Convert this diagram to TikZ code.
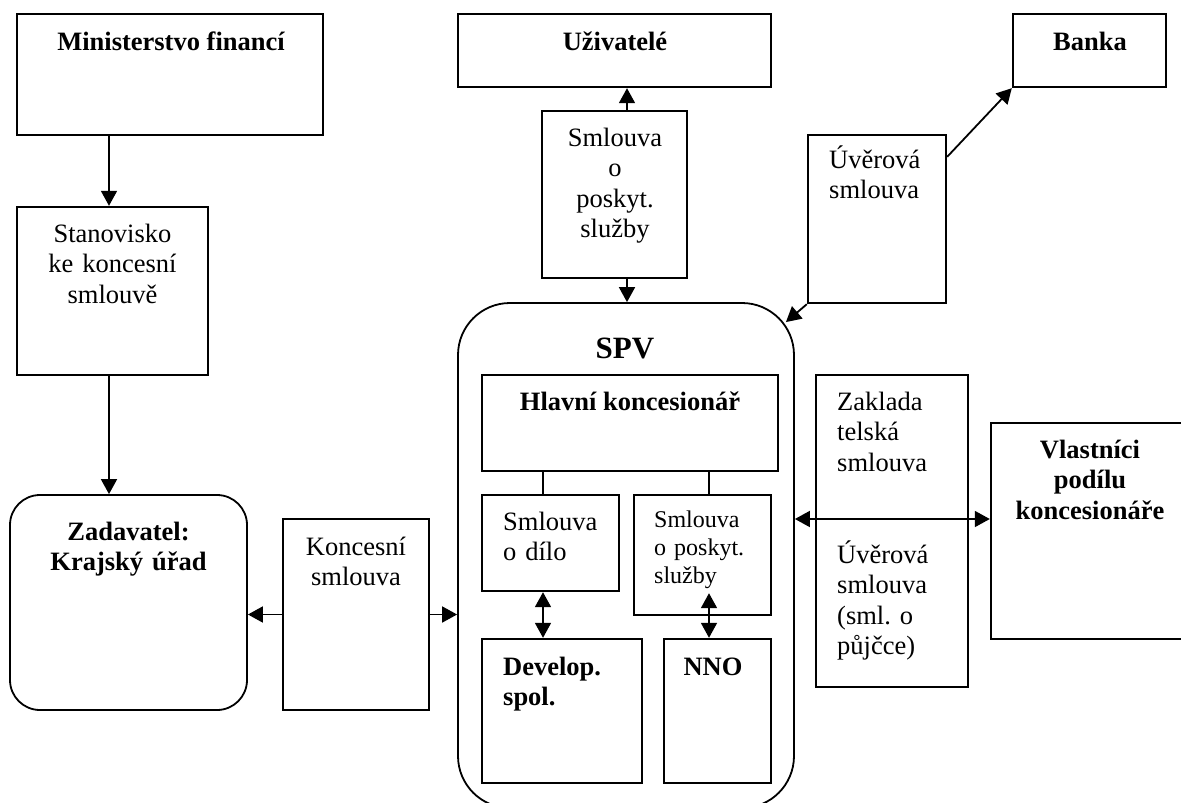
\documentclass[tikz,border=0pt]{standalone}
\usepackage{fontspec}
\setmainfont{Liberation Serif}
\usetikzlibrary{arrows.meta,calc}
\newcommand\rigidsp{\frenchspacing\spaceskip=0.25em\relax}
\begin{document}
\begin{tikzpicture}[x=1pt,y=-1pt,
  box/.style={draw, line width=2.4pt, inner sep=0pt},
  rbox/.style={draw, line width=1.8pt, inner sep=0pt, rounded corners=#1},
  wh/.style 2 args={minimum width=#1pt, minimum height=#2pt},
  txt/.style={inner sep=0pt, font=\fontsize{26.5}{30.5}\selectfont\rigidsp},
  btxt/.style={inner sep=0pt, font=\fontsize{26.5}{30.5}\selectfont\bfseries\rigidsp},
  conn/.style={line width=1.8pt, -{Triangle[length=15pt,width=16pt]}},
  dconn/.style={line width=1.8pt, {Triangle[length=15pt,width=16pt]}-{Triangle[length=15pt,width=16pt]}},
  link/.style={line width=1.8pt}
]
\useasboundingbox (0,0) rectangle (1181,803);
\clip (0,0) rectangle (1181,803);
\fill[white] (0,0) rectangle (1181,803);

% boxes
\node[box, wh={306}{121}] (min) at (170,74.5) {};
\node[box, wh={191}{168}] (stan) at (112.5,291) {};
\node[rbox=30pt, wh={237}{215}] (zad) at (128.5,602.5) {};
\node[box, wh={146}{191}] (konc) at (356,614.5) {};
\node[box, wh={313}{73}] (uziv) at (614.5,50.5) {};
\node[box, wh={145}{167}] (sops) at (614.5,194.5) {};
\node[box, wh={153}{73}] (banka) at (1089.5,50.5) {};
\node[box, wh={138}{168}] (uver) at (877,219) {};
\node[rbox=52pt, wh={336}{505}] (spv) at (626,555.5) {};
\node[box, wh={296}{96}] (hl) at (630,423) {};
\node[box, wh={137}{96}] (sod) at (550.5,543) {};
\node[box, wh={137}{120}] (spo) at (702.5,555) {};
\node[box, wh={160}{144}] (dev) at (562,711) {};
\node[box, wh={107}{144}] (nno) at (717.5,711) {};
\node[box, wh={152}{312}] (zakl) at (892,531) {};
\node[box, wh={199}{216}] (vlast) at (1090.5,531) {};

% texts
\node[btxt, anchor=base] (tmin) at (171,50) {Ministerstvo financí};
\node[txt, anchor=base, text width=190pt, align=center] (tstan) at (112.5,242) {Stanovisko\\ke koncesní\\smlouvě};
\node[btxt, anchor=base, text width=230pt, align=center] (tzad) at (128.5,540) {Zadavatel:\\Krajský úřad};
\node[txt, anchor=base, text width=140pt, align=center] (tkonc) at (356,555) {Koncesní\\smlouva};
\node[btxt, anchor=base] (tuziv) at (615,50) {Uživatelé};
\node[txt, anchor=base, text width=140pt, align=center] (tsops) at (615,146) {Smlouva\\o\\poskyt.\\služby};
\node[btxt, anchor=base] (tbanka) at (1090,50) {Banka};
\node[txt, anchor=base west, text width=120pt, align=left] (tuver) at (829,168) {Úvěrová\\smlouva};
\node[inner sep=0pt, font=\fontsize{31}{36}\selectfont\bfseries, anchor=base] (tspv) at (625,358) {SPV};
\node[btxt, anchor=base] (thl) at (630,410) {Hlavní koncesionář};
\node[txt, anchor=base west, text width=110pt, align=left] (tsod) at (503,530) {Smlouva\\o dílo};
\node[inner sep=0pt, font=\fontsize{24}{28}\selectfont\rigidsp, anchor=base west, text width=110pt, align=left] (tspo) at (654,527) {Smlouva\\o poskyt.\\služby};
\node[btxt, anchor=base west, text width=130pt, align=left] (tdev) at (503,675) {Develop.\\spol.};
\node[btxt, anchor=base] (tnno) at (713,675) {NNO};
\node[txt, anchor=base west, text width=125pt, align=left] (tzak) at (837,410) {Zaklada\\telská\\smlouva};
\node[txt, anchor=base west, text width=125pt, align=left] (tuv2) at (837,563) {Úvěrová\\smlouva\\(sml. o\\půjčce)};
\node[btxt, anchor=base, text width=190pt, align=center] (tvl) at (1090,458) {Vlastníci\\podílu\\koncesionáře};

% connectors
\coordinate (xa) at (109,0);
\coordinate (xu) at (627,0);
\coordinate (yv) at (0,519);
\coordinate (xb1) at (543,0);
\coordinate (xb2) at (709,0);
\coordinate (spvtip) at ($(spv.north east)+(-9,20)$);
\coordinate (uvtail) at ($(uver.north east)+(0,23)$);
\coordinate (spotail) at ($(spo.south -| xb2)+(0,-23)$);

\draw[conn] (min.south -| xa) -- (stan.north -| xa);
\draw[conn] (stan.south -| xa) -- (zad.north -| xa);
\draw[conn] (konc.west) -- (konc.west -| zad.east);
\draw[conn] (konc.east) -- (konc.east -| spv.west);
\draw[conn] (sops.north -| xu) -- (uziv.south -| xu);
\draw[conn] (sops.south -| xu) -- (spv.north -| xu);
\draw[conn] (uvtail) -- (banka.south west);
\draw[conn] (uver.south west) -- (spvtip);
\draw[dconn] (spv.east |- yv) -- (vlast.west |- yv);
\draw[link] (hl.south -| xb1) -- (sod.north -| xb1);
\draw[link] (hl.south -| xb2) -- (spo.north -| xb2);
\draw[dconn] (sod.south -| xb1) -- (dev.north -| xb1);
\draw[dconn] (spotail) -- (nno.north -| xb2);
\end{tikzpicture}
\end{document}
